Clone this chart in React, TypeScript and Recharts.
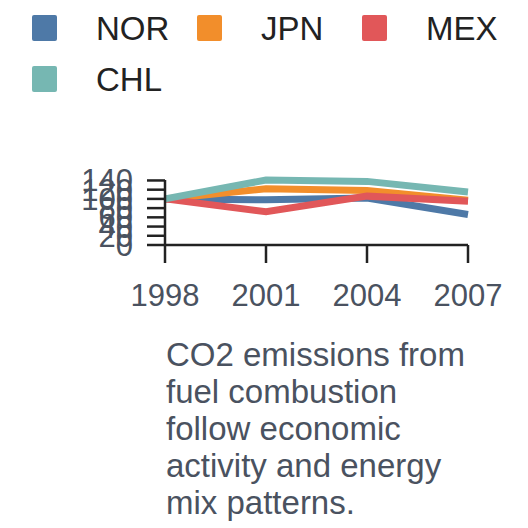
import { CartesianGrid, Line, LineChart, XAxis, YAxis } from "recharts";

const years = ["1998", "2001", "2004", "2007"];
const norValues = [100, 98, 102, 66];
const jpnValues = [100, 122, 118, 97];
const mexValues = [100, 72, 106, 95];
const chlValues = [100, 141, 138, 115];
const yTicks = [0, 20, 40, 60, 80, 100, 120, 140];

const series = [
  { key: "NOR", values: norValues, color: "#4e79a7" },
  { key: "JPN", values: jpnValues, color: "#f28e2b" },
  { key: "MEX", values: mexValues, color: "#e15759" },
  { key: "CHL", values: chlValues, color: "#76b7b2" }
];

const captionLines = [
  "CO2 emissions from",
  "fuel combustion",
  "follow economic",
  "activity and energy",
  "mix patterns."
];

const font = '"Liberation Sans", Arial, sans-serif';
const textColor = "#4a5260";
const axisColor = "#222222";

const data = years.map((year, i) => {
  const row: Record<string, string | number> = { year };
  series.forEach((s) => {
    row[s.key] = s.values[i];
  });
  return row;
});

export default function App() {
  return (
    <div
      style={{
        position: "absolute",
        left: 0,
        top: 0,
        width: 528,
        height: 528,
        background: "#fff",
        fontFamily: font,
        overflow: "hidden"
      }}
    >
      <div
        style={{
          position: "absolute",
          left: 32,
          top: 10,
          width: 495,
          display: "flex",
          flexWrap: "wrap"
        }}
      >
        {series.map((s) => (
          <div
            key={s.key}
            style={{ width: 165, height: 51, display: "flex", alignItems: "flex-start" }}
          >
            <div
              style={{
                width: 25,
                height: 26,
                marginTop: 5,
                borderRadius: 2,
                background: s.color
              }}
            />
            <div
              style={{
                marginLeft: 39,
                fontSize: 33,
                lineHeight: "38px",
                color: "#222"
              }}
            >
              {s.key}
            </div>
          </div>
        ))}
      </div>

      <div style={{ position: "absolute", left: 0, top: 0 }}>
        <LineChart
          width={528}
          height={320}
          data={data}
          margin={{ top: 180, right: 60, bottom: 15, left: 0 }}
        >
          <CartesianGrid stroke="none" />
          <XAxis
            dataKey="year"
            height={60}
            padding={{ left: 0, right: 0 }}
            tickSize={18}
            tickMargin={21}
            axisLine={{ stroke: axisColor, strokeWidth: 2.5 }}
            tickLine={{ stroke: axisColor, strokeWidth: 2.5 }}
            tick={{ fill: textColor, fontSize: 31, fontFamily: font }}
          />
          <YAxis
            width={165}
            domain={[0, 140]}
            ticks={yTicks}
            tickSize={18}
            tickMargin={14}
            interval={0}
            axisLine={{ stroke: axisColor, strokeWidth: 2.5 }}
            tickLine={{ stroke: axisColor, strokeWidth: 2.5 }}
            tick={{ fill: textColor, fontSize: 31, fontFamily: font }}
          />
          {series.map((s) => (
            <Line
              key={s.key}
              dataKey={s.key}
              stroke={s.color}
              strokeWidth={7}
              dot={false}
              activeDot={false}
              type="linear"
              isAnimationActive={false}
            />
          ))}
        </LineChart>
      </div>

      <div
        style={{
          position: "absolute",
          left: 166,
          top: 336,
          fontSize: 33,
          lineHeight: "37px",
          color: textColor
        }}
      >
        {captionLines.map((line) => (
          <div key={line}>{line}</div>
        ))}
      </div>
    </div>
  );
}
